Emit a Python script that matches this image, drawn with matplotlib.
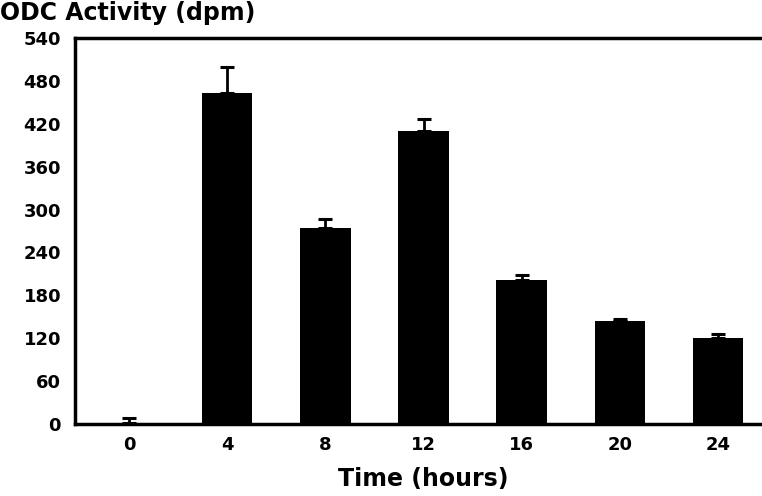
import matplotlib as mpl
import matplotlib.pyplot as plt

mpl.rcParams['font.family'] = ['DejaVu Sans']
mpl.rcParams['font.weight'] = 'bold'

# data
hours = [0, 4, 8, 12, 16, 20, 24]
odc_mean = [1, 463, 274, 410, 202, 144, 121]
odc_err = [8, 37, 13, 17, 6, 3, 5]
yticks = [0, 60, 120, 180, 240, 300, 360, 420, 480, 540]

fig = plt.figure(figsize=(7.62, 4.96), dpi=100)
ax = fig.add_axes([75 / 762, 72 / 496, 687 / 762, 386 / 496])

ax.bar(hours, odc_mean, width=2.06, color='black', zorder=2)
ax.errorbar(hours, odc_mean, yerr=[[0] * len(odc_err), odc_err], fmt='none',
            ecolor='black', elinewidth=2, capsize=5, capthick=2.2, zorder=3)

ax.set_xlim(-2.2, 25.79)
ax.set_ylim(0, 540)
ax.set_yticks(yticks)
ax.set_xticks(hours)

ax.spines['right'].set_visible(False)
for s in ['left', 'top', 'bottom']:
    ax.spines[s].set_linewidth(2.5)

ax.tick_params(axis='both', length=0, labelsize=13)
ax.tick_params(axis='y', pad=10)
ax.tick_params(axis='x', pad=9)
for label in ax.get_xticklabels() + ax.get_yticklabels():
    label.set_fontweight('bold')

fig.text(0.0, 1 - 20 / 496, 'ODC Activity (dpm)', fontsize=17,
         fontweight='bold', ha='left', va='baseline')
fig.text(423 / 762, 1 - 486 / 496, 'Time (hours)', fontsize=17,
         fontweight='bold', ha='center', va='baseline')

fig.savefig('out.png', dpi=100)
